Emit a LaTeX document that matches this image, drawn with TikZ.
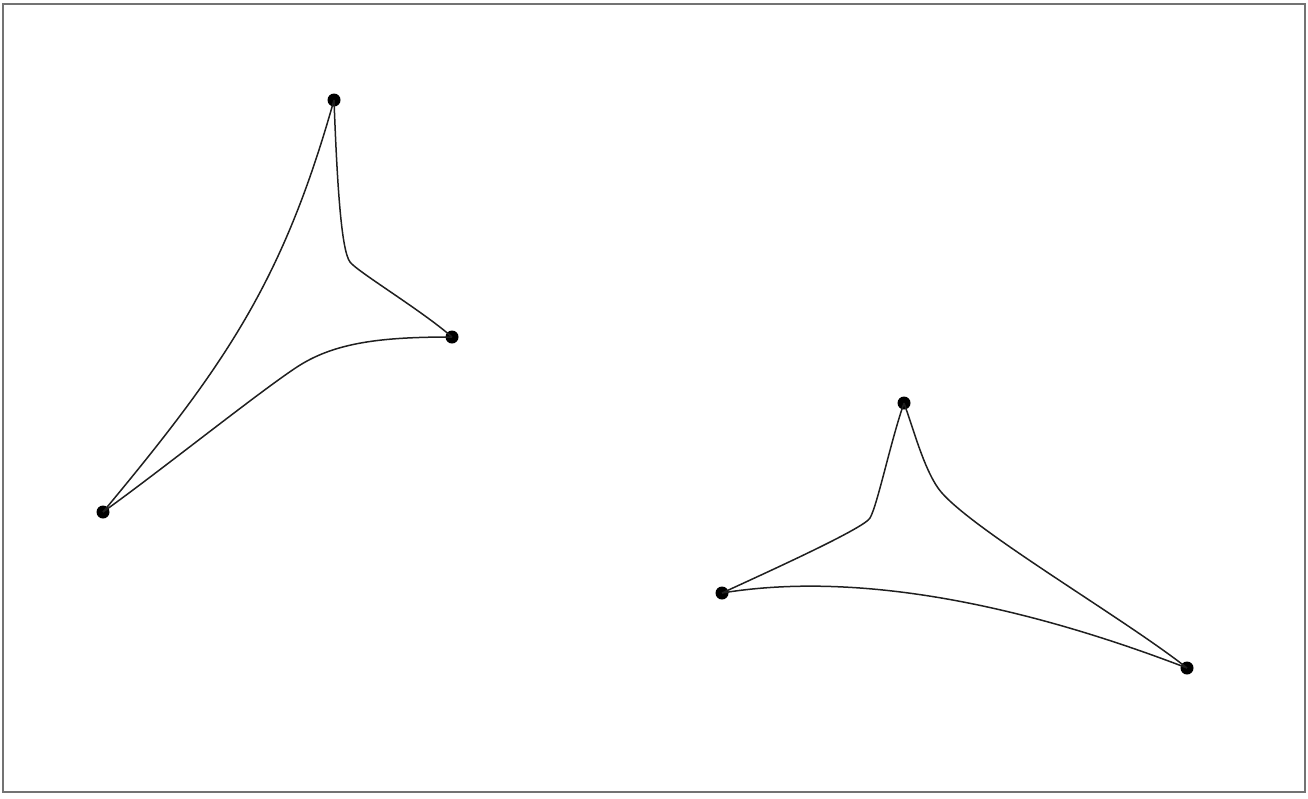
\documentclass[tikz,border=0pt]{standalone}
\begin{document}
\begin{tikzpicture}[x=0.5bp,y=-0.5bp,
  vertex/.style={circle,fill=black,inner sep=0pt,minimum size=6.5bp},
  edge/.style={draw=black!88,line width=0.75bp},
  frame/.style={draw=black!55,line width=0.8bp}]
\useasboundingbox (0,0) rectangle (1308,798);
\draw[frame] (3,4) rectangle (1305,792);
% left triangle
\node[vertex] (A) at (334,100) {};
\node[vertex] (B) at (452,337) {};
\node[vertex] (C) at (103,512) {};
\coordinate (K1) at (350,262);
\coordinate (P1) at (297,367);
% right triangle
\node[vertex] (D) at (904,403) {};
\node[vertex] (E) at (722,593) {};
\node[vertex] (F) at (1187,668) {};
\coordinate (K2) at (870,518);
\coordinate (M) at (938,488);
% edges
\draw[edge] (A.center) .. controls (282.7,282.4) and (224.6,365.7) .. (C.center);
\draw[edge] (A.center) .. controls (337,180) and (341,250) .. (K1)
                       .. controls (357.2,271.6) and (422,310.6) .. (B.center);
\draw[edge] (B.center) .. controls (382,337) and (334.8,342.2) .. (P1)
                       .. controls (259.2,391.75) and (159.7,471.4) .. (C.center);
\draw[edge] (D.center) .. controls (890.8,440.6) and (877.5,505) .. (K2)
                       .. controls (864,528.4) and (767.5,572) .. (E.center);
\draw[edge] (D.center) .. controls (914,431) and (923.75,467.5) .. (M)
                       .. controls (963.6,524.9) and (1124.6,618.4) .. (F.center);
\draw[edge] (E.center) .. controls (850,572) and (1010,600) .. (F.center);
\end{tikzpicture}
\end{document}
